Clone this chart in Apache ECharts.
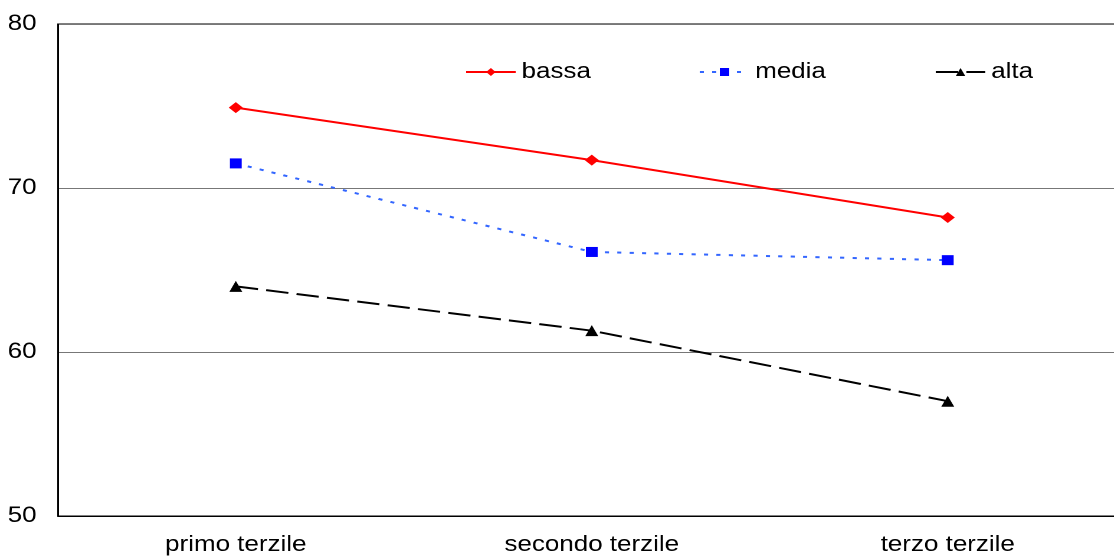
<!DOCTYPE html>
<html>
<head>
<meta charset="utf-8">
<script src="https://cdn.jsdelivr.net/npm/echarts@6/dist/echarts.min.js"></script>
<style>
  html, body { margin: 0; padding: 0; background: #fff; overflow: hidden; }
  #wrap { width: 1114px; height: 556px; overflow: hidden; }
  /* the reference is stretched horizontally, so the chart is drawn narrow and widened */
  #chart { width: 1000px; height: 556px; transform: scaleX(1.18); transform-origin: 0 0; }
</style>
</head>
<body>
<div id="wrap"><div id="chart"></div></div>
<script>
var categories = ['primo terzile', 'secondo terzile', 'terzo terzile'];
var bassa = [74.9, 71.7, 68.2];
var media = [71.5, 66.1, 65.6];
var alta = [64.0, 61.3, 57.0];
var yTicks = [50, 60, 70, 80];

var myChart = echarts.init(document.getElementById('chart'), null, { devicePixelRatio: 2 });

var font = 'Liberation Sans, Arial, sans-serif';

function legendAt(name, left) {
    return {
        data: [name],
        left: left,
        top: 56,
        itemWidth: 42,
        itemHeight: 10,
        textStyle: { fontFamily: font, fontSize: 22, color: '#000' }
    };
}

var option = {
    animation: false,
    backgroundColor: '#fff',
    legend: [
        legendAt('bassa', 389),
        legendAt('media', 587),
        legendAt('alta', 787)
    ],
    grid: {
        left: 49,
        top: 24,
        width: 905,
        height: 493,
        show: true,
        borderColor: '#000',
        borderWidth: 1
    },
    xAxis: {
        type: 'category',
        data: categories,
        boundaryGap: true,
        axisLine: { lineStyle: { color: '#000', width: 1 } },
        axisTick: { inside: true, length: 6, lineStyle: { color: '#000' } },
        axisLabel: { fontFamily: font, fontSize: 22, color: '#000', margin: 18 }
    },
    yAxis: {
        type: 'value',
        min: yTicks[0],
        max: yTicks[yTicks.length - 1],
        interval: 10,
        axisLine: { show: true, lineStyle: { color: '#000', width: 1 } },
        axisTick: { show: false },
        splitLine: { lineStyle: { color: '#777', width: 1 } },
        axisLabel: { fontFamily: font, fontSize: 22, color: '#000', margin: 18 }
    },
    series: [
        {
            name: 'bassa',
            type: 'line',
            data: bassa,
            symbol: 'diamond',
            symbolSize: [12, 11],
            itemStyle: { color: '#ff0000' },
            lineStyle: { color: '#ff0000', width: 2 }
        },
        {
            name: 'media',
            type: 'line',
            data: media,
            symbol: 'rect',
            symbolSize: 10,
            itemStyle: { color: '#0000ff' },
            lineStyle: { color: '#3366ff', width: 2, type: [3.5, 7] }
        },
        {
            name: 'alta',
            type: 'line',
            data: alta,
            symbol: 'triangle',
            symbolSize: 11,
            itemStyle: { color: '#000' },
            lineStyle: { color: '#000', width: 2, type: [19, 7] }
        }
    ]
};
myChart.setOption(option);
</script>
</body>
</html>
